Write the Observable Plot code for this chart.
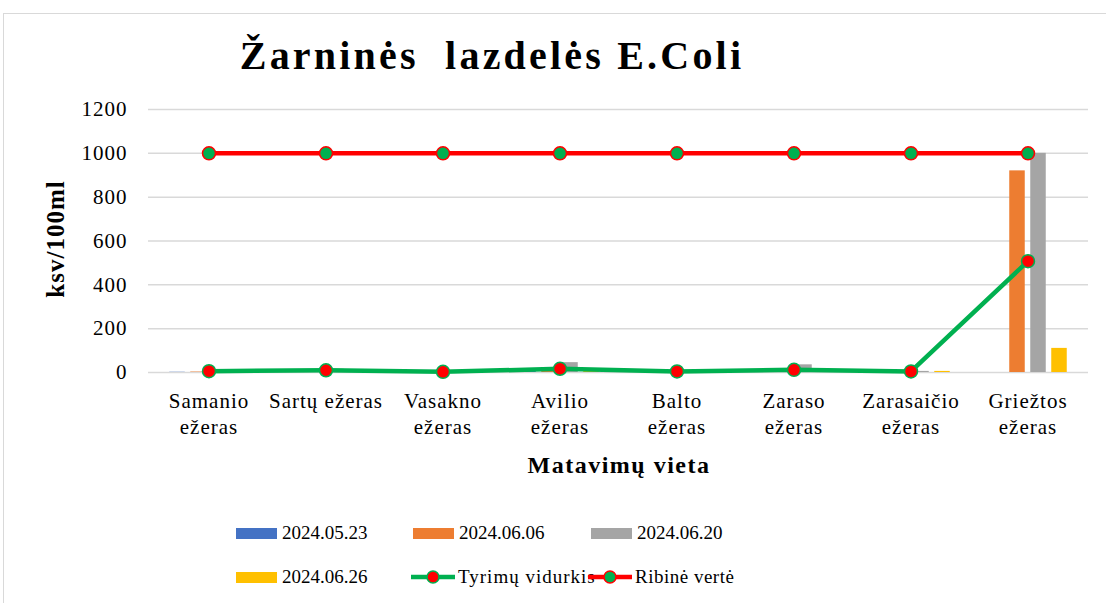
<!DOCTYPE html>
<html>
<head>
<meta charset="utf-8">
<script src="https://cdn.jsdelivr.net/npm/d3@7"></script>
<script src="https://cdn.jsdelivr.net/npm/@observablehq/plot@0.6"></script>
<style>
  html, body { margin: 0; padding: 0; background: #fff; }
  #wrap { position: relative; width: 1106px; height: 603px; overflow: hidden; font-family: "Liberation Serif", "Times New Roman", serif; color: #000; }
  #frame { position: absolute; left: 3px; top: 13px; width: 1110px; height: 600px; border: 1.5px solid #d9d9d9; box-sizing: border-box; }
  #chart { position: absolute; left: 0; top: 0; }
  #chart svg text { letter-spacing: 1px; }
  #title { position: absolute; left: 0; width: 984px; top: 32px; text-align: center; font-weight: bold; font-size: 40px; letter-spacing: 3.2px; white-space: pre; }
  #ytitle { position: absolute; left: 56px; top: 239px; transform: translate(-50%, -50%) rotate(-90deg); font-weight: bold; font-size: 25px; letter-spacing: 1px; white-space: nowrap; }
  #xtitle { position: absolute; left: 619px; top: 465px; transform: translate(-50%, -50%); font-weight: bold; font-size: 24px; letter-spacing: 1.5px; white-space: nowrap; }
  .leg { position: absolute; display: flex; align-items: center; font-size: 19px; white-space: nowrap; transform: translateY(-50%); }
  .sw { width: 41px; height: 11px; margin-right: 5px; }
  .lsw { margin-right: 2px; }
</style>
</head>
<body>
<div id="wrap">
  <div id="frame"></div>
  <div id="title">Žarninės  lazdelės E.Coli</div>
  <div id="chart"></div>
  <div id="ytitle">ksv/100ml</div>
  <div id="xtitle">Matavimų vieta</div>
  <div id="legend"></div>
</div>
<script>
// ---- data ----
const categories = ["Samanio ežeras", "Sartų ežeras", "Vasakno ežeras", "Avilio ežeras", "Balto ežeras", "Zaraso ežeras", "Zarasaičio ežeras", "Griežtos ežeras"];
const xLabels = ["Samanio\nežeras", "Sartų ežeras", "Vasakno\nežeras", "Avilio\nežeras", "Balto\nežeras", "Zaraso\nežeras", "Zarasaičio\nežeras", "Griežtos\nežeras"];
const seriesNames = ["2024.05.23", "2024.06.06", "2024.06.20", "2024.06.26"];
const s20240523 = [1, 5, 3, 5, 3, 5, 3, 0];
const s20240606 = [2, 10, 0, 10, 5, 5, 5, 920];
const s20240620 = [10, 15, 5, 45, 5, 35, 5, 1000];
const s20240626 = [5, 5, 0, 10, 5, 5, 5, 110];
const avgName = "Tyrimų vidurkis";
const avgValues = [6, 10, 3, 17, 5, 12, 5, 508];
const limitName = "Ribinė vertė";
const limitValues = [1000, 1000, 1000, 1000, 1000, 1000, 1000, 1000];
const yTicks = [0, 200, 400, 600, 800, 1000, 1200];

// ---- styles ----
const barColors = ["#4472C4", "#ED7D31", "#A5A5A5", "#FFC000"];
const green = "#00B050", red = "#FF0000";
const W = 1106, H = 480, mL = 148, mR = 18, mT = 109, mB = 108;
const band = (W - mL - mR) / categories.length;
const barW = 16, barStep = 21;

const seriesValues = [s20240523, s20240606, s20240620, s20240626];
const barMarks = seriesValues.map((vals, k) => {
  const left = band / 2 + (k - 1.5) * barStep - barW / 2;
  return Plot.barY(categories.map((c, i) => ({c, v: vals[i]})), {
    x: "c", y: "v", fill: barColors[k],
    insetLeft: left, insetRight: band - left - barW
  });
});
const avgData = categories.map((c, i) => ({c, v: avgValues[i]}));
const limData = categories.map((c, i) => ({c, v: limitValues[i]}));

const plot = Plot.plot({
  width: W, height: H,
  marginLeft: mL, marginRight: mR, marginTop: mT, marginBottom: mB,
  style: {fontFamily: "'Liberation Serif', 'Times New Roman', serif", fontSize: "21px", color: "#000", background: "transparent", overflow: "visible"},
  x: {type: "band", domain: categories, padding: 0, axis: null},
  y: {domain: [0, 1200], ticks: yTicks, tickSize: 0, tickPadding: 21, label: null, tickFormat: d => String(d)},
  marks: [
    Plot.ruleY(yTicks, {stroke: "#d9d9d9", strokeWidth: 1.5}),
    ...barMarks,
    Plot.line(avgData, {x: "c", y: "v", stroke: green, strokeWidth: 4.5}),
    Plot.dot(avgData, {x: "c", y: "v", r: 6.5, fill: red, stroke: green, strokeWidth: 1.5}),
    Plot.line(limData, {x: "c", y: "v", stroke: red, strokeWidth: 4.5}),
    Plot.dot(limData, {x: "c", y: "v", r: 6.5, fill: green, stroke: red, strokeWidth: 1.5}),
    Plot.text(categories, {x: d => d, text: (d, i) => xLabels[i], frameAnchor: "bottom", lineAnchor: "top", dy: 17, fontSize: 21, lineHeight: 1.25, fill: "#000"})
  ]
});
document.getElementById("chart").appendChild(plot);

// ---- legend ----
const legend = document.getElementById("legend");
function addLeg(x, y, swatchHtml, label, ls) {
  const d = document.createElement("div");
  d.className = "leg";
  d.style.left = x + "px"; d.style.top = y + "px";
  d.innerHTML = swatchHtml + `<span style="letter-spacing:${ls || 0}px">` + label + "</span>";
  legend.appendChild(d);
}
const rect = c => `<div class="sw" style="background:${c}"></div>`;
const lineSw = (lc, fc) => `<svg class="lsw" width="46" height="16"><line x1="1" y1="8" x2="45" y2="8" stroke="${lc}" stroke-width="4.5"/><circle cx="23" cy="8" r="6" fill="${fc}" stroke="${lc}" stroke-width="1.5"/></svg>`;
addLeg(236, 533, rect(barColors[0]), seriesNames[0]);
addLeg(413, 533, rect(barColors[1]), seriesNames[1]);
addLeg(591, 533, rect(barColors[2]), seriesNames[2]);
addLeg(236, 577, rect(barColors[3]), seriesNames[3]);
addLeg(410, 577, lineSw(green, red), avgName, 1);
addLeg(587, 577, lineSw(red, green), limitName, 0.5);
</script>
</body>
</html>
